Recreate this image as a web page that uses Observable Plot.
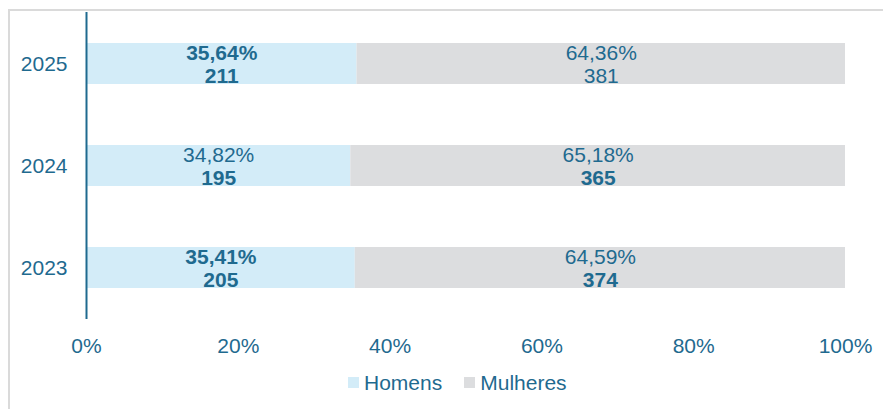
<!DOCTYPE html>
<html>
<head>
<meta charset="utf-8">
<script src="https://cdn.jsdelivr.net/npm/d3@7"></script>
<script src="https://cdn.jsdelivr.net/npm/@observablehq/plot@0.6"></script>
<style>
  html, body { margin: 0; padding: 0; background: #fff; width: 883px; height: 409px; overflow: hidden; }
  #frame { position: absolute; left: 8px; top: 9px; width: 1000px; height: 1000px; border: 2px solid #dadada; box-sizing: border-box; }
  #chart { position: absolute; left: 0; top: 0; }
  #legend { position: absolute; left: 348px; top: 366px; }
  .lg-swatch > svg { margin-right: 5px !important; }
  .lg-swatches-wrap .lg-swatch { margin-right: 22px !important; }
</style>
</head>
<body>
<div id="frame"></div>
<div id="chart"></div>
<div id="legend"></div>
<script>
const years = ["2025", "2024", "2023"];
const series = ["Homens", "Mulheres"];
const homensCount = [211, 195, 205];
const mulheresCount = [381, 365, 374];
const homensPct = [35.64, 34.82, 35.41];
const mulheresPct = [64.36, 65.18, 64.59];
const xTicks = [0, 20, 40, 60, 80, 100];

// which label lines are bold (per year, per series)
const boldPct = {Homens: [true, false, true], Mulheres: [false, false, false]};
const boldCount = {Homens: [true, true, true], Mulheres: [false, true, true]};

const colors = ["#d3ecf8", "#dcdddf"];
const ink = "#1f6a8f";
const font = "'Liberation Sans', Arial, sans-serif";
const fs = 21;

const rows = [];
years.forEach((y, i) => {
  rows.push({year: y, series: "Homens", pct: homensPct[i], count: homensCount[i], x1: 0, x2: homensPct[i],
             bp: boldPct.Homens[i], bc: boldCount.Homens[i]});
  rows.push({year: y, series: "Mulheres", pct: mulheresPct[i], count: mulheresCount[i], x1: homensPct[i], x2: homensPct[i] + mulheresPct[i],
             bp: boldPct.Mulheres[i], bc: boldCount.Mulheres[i]});
});
const fmtPct = v => v.toFixed(2).replace(".", ",") + "%";
const mid = d => (d.x1 + d.x2) / 2;

const textOpts = {y: "year", x: mid, fill: ink, fontSize: fs, fontFamily: font};

const chart = Plot.plot({
  width: 883,
  height: 360,
  marginLeft: 86,
  marginRight: 38,
  marginTop: 12,
  marginBottom: 41,
  style: {fontFamily: font, fontSize: fs + "px", color: ink, background: "transparent", overflow: "visible"},
  x: {domain: [0, 100], ticks: xTicks, tickFormat: d => d + "%", tickSize: 0, tickPadding: 19, label: null},
  y: {domain: years, paddingInner: 0.6, paddingOuter: 0.3, tickSize: 0, tickPadding: 19, label: null},
  color: {domain: series, range: colors},
  marks: [
    Plot.barX(rows, {y: "year", x1: "x1", x2: "x2", fill: "series"}),
    Plot.ruleX([0], {stroke: ink, strokeWidth: 2}),
    Plot.text(rows.filter(d => d.bp), {...textOpts, text: d => fmtPct(d.pct), dy: -11, fontWeight: "bold"}),
    Plot.text(rows.filter(d => !d.bp), {...textOpts, text: d => fmtPct(d.pct), dy: -11}),
    Plot.text(rows.filter(d => d.bc), {...textOpts, text: d => String(d.count), dy: 12, fontWeight: "bold"}),
    Plot.text(rows.filter(d => !d.bc), {...textOpts, text: d => String(d.count), dy: 12})
  ]
});
document.getElementById("chart").appendChild(chart);

const legend = Plot.legend({
  color: {domain: series, range: colors},
  legend: "swatches",
  swatchSize: 11,
  className: "lg",
  style: {fontFamily: font, fontSize: fs + "px", color: ink, margin: 0}
});
document.getElementById("legend").appendChild(legend);
</script>
</body>
</html>
